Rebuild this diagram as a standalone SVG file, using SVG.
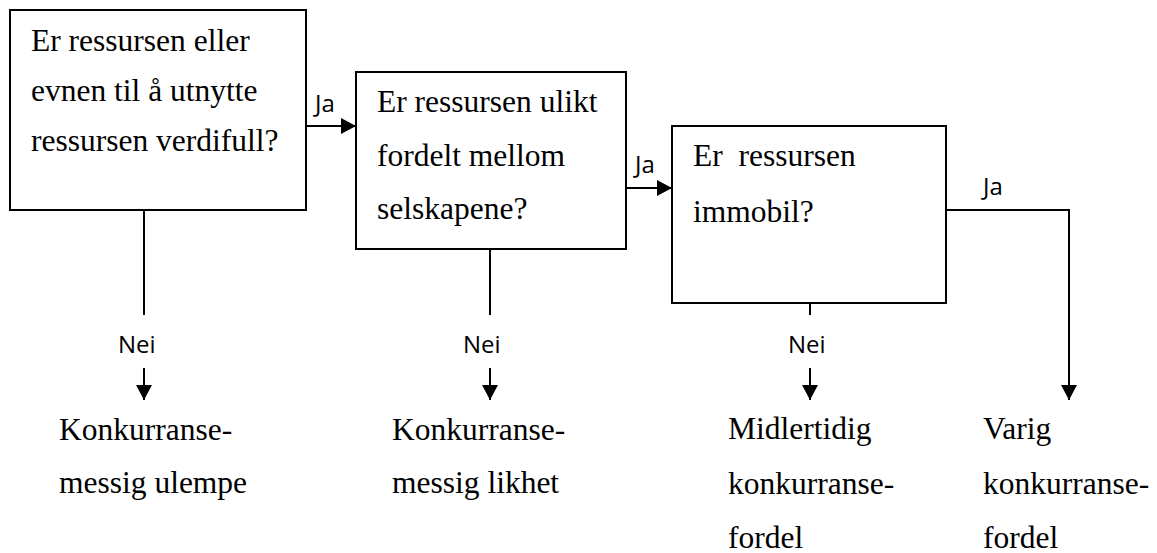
<svg xmlns="http://www.w3.org/2000/svg" width="1157" height="553" viewBox="0 0 1157 553">
  <style>
    .box { fill: #ffffff; stroke: #000000; stroke-width: 2; }
    .line { fill: none; stroke: #000000; stroke-width: 2; }
    .txt { font-family: "Liberation Serif", "Times New Roman", serif; font-size: 31.5px; fill: #000000; white-space: pre; }
    .lbl { font-family: "Open Sans", "Noto Sans", sans-serif; font-size: 24px; fill: #000000; }
  </style>
  <defs>
    <marker id="arrow" viewBox="0 0 15 16" refX="15" refY="8" markerWidth="15" markerHeight="16" markerUnits="userSpaceOnUse" orient="auto">
      <path d="M0,0 L15,8 L0,16 Z" fill="#000000"/>
    </marker>
  </defs>
  <rect width="1157" height="553" fill="#ffffff"/>

  <!-- connectors -->
  <g id="connectors">
    <path class="line" d="M306,126 H356" marker-end="url(#arrow)"/>
    <path class="line" d="M626,188 H672" marker-end="url(#arrow)"/>
    <path class="line" d="M946,210 H1069 V400" marker-end="url(#arrow)"/>
    <path class="line" d="M144,210 V315"/>
    <path class="line" d="M144,368 V400" marker-end="url(#arrow)"/>
    <path class="line" d="M490,249 V315"/>
    <path class="line" d="M490,368 V400" marker-end="url(#arrow)"/>
    <path class="line" d="M810,303 V315"/>
    <path class="line" d="M810,368 V400" marker-end="url(#arrow)"/>
    <text class="lbl" x="315" y="112">Ja</text>
    <text class="lbl" x="635" y="173">Ja</text>
    <text class="lbl" x="983" y="195">Ja</text>
    <text class="lbl" x="118" y="353">Nei</text>
    <text class="lbl" x="463" y="353">Nei</text>
    <text class="lbl" x="788" y="353">Nei</text>
  </g>

  <!-- question boxes -->
  <g id="q1">
    <rect class="box" x="10" y="10" width="296" height="200"/>
    <text class="txt" x="31" y="51">Er ressursen eller</text>
    <text class="txt" x="31" y="101">evnen til å utnytte</text>
    <text class="txt" x="31" y="151">ressursen verdifull?</text>
  </g>
  <g id="q2">
    <rect class="box" x="356" y="72" width="270" height="177"/>
    <text class="txt" x="377" y="112">Er ressursen ulikt</text>
    <text class="txt" x="377" y="166">fordelt mellom</text>
    <text class="txt" x="377" y="219">selskapene?</text>
  </g>
  <g id="q3">
    <rect class="box" x="672" y="126" width="274" height="177"/>
    <text class="txt" x="693" y="166">Er  ressursen</text>
    <text class="txt" x="693" y="222">immobil?</text>
  </g>

  <!-- outcomes -->
  <g id="o1">
    <text class="txt" x="59" y="440">Konkurranse-</text>
    <text class="txt" x="59" y="493">messig ulempe</text>
  </g>
  <g id="o2">
    <text class="txt" x="392" y="440">Konkurranse-</text>
    <text class="txt" x="392" y="493">messig likhet</text>
  </g>
  <g id="o3">
    <text class="txt" x="728" y="439">Midlertidig</text>
    <text class="txt" x="728" y="494">konkurranse-</text>
    <text class="txt" x="728" y="548">fordel</text>
  </g>
  <g id="o4">
    <text class="txt" x="983" y="439">Varig</text>
    <text class="txt" x="983" y="494">konkurranse-</text>
    <text class="txt" x="983" y="548">fordel</text>
  </g>
</svg>
